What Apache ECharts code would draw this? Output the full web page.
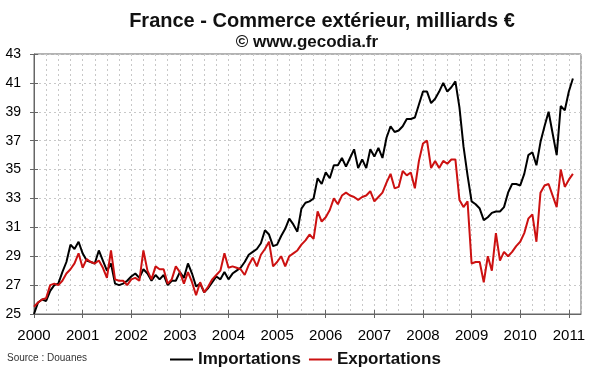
<!DOCTYPE html>
<html>
<head>
<meta charset="utf-8">
<script src="https://cdn.jsdelivr.net/npm/echarts@6/dist/echarts.min.js"></script>
<style>
html,body{margin:0;padding:0;background:#fff;}
#chart{width:600px;height:372px;}
</style>
</head>
<body>
<div id="chart"></div>
<script>
// Monthly data, Jan 2000 .. Feb 2011 (milliards €)
const importations = [
  25.0,25.8,26.0,25.9,26.6,27.0,27.1,27.9,28.6,29.8,29.5,30.0,
  29.2,28.7,28.6,28.5,29.4,28.7,28.0,28.5,27.1,27.0,27.1,27.3,
  27.6,27.8,27.5,28.1,27.8,27.3,27.7,27.4,27.7,27.0,27.3,27.3,
  27.9,27.5,28.5,27.8,26.9,27.1,26.5,26.8,27.2,27.6,27.4,27.9,
  27.4,27.8,28.0,28.2,28.6,29.1,29.3,29.5,29.9,30.8,30.5,29.7,
  29.8,30.4,30.9,31.6,31.2,30.7,32.3,32.7,32.8,33.0,34.4,34.0,
  34.8,34.4,35.3,35.3,35.8,35.2,35.8,36.4,35.1,35.7,35.1,36.4,
  35.9,36.5,35.8,37.2,38.0,37.6,37.7,38.0,38.5,38.5,38.6,39.5,
  40.4,40.4,39.6,39.9,40.4,41.0,40.4,40.7,41.1,39.3,36.6,34.6,
  32.8,32.6,32.3,31.5,31.7,32.0,32.1,32.1,32.4,33.4,34.0,34.0,
  33.9,34.7,36.0,36.2,35.3,36.9,38.0,39.0,37.5,36.0,39.4,39.1,
  40.4,41.3
];
const exportations = [
  25.5,25.8,26.0,26.1,27.0,27.1,27.0,27.3,27.8,28.1,28.5,29.2,
  28.2,28.8,28.6,28.5,28.7,28.2,27.5,29.4,27.4,27.3,27.3,27.0,
  27.4,27.5,27.3,29.4,28.0,27.4,28.3,28.1,28.1,27.1,27.4,28.3,
  27.9,27.1,27.9,27.2,26.3,27.2,26.5,26.9,27.4,27.7,28.0,29.2,
  28.2,28.3,28.2,28.1,27.7,28.4,28.9,28.3,29.1,29.5,30.0,28.3,
  28.6,29.0,28.3,29.0,29.2,29.4,29.8,30.1,30.5,30.2,32.1,31.4,
  31.7,32.2,33.0,32.6,33.2,33.4,33.2,33.1,32.9,33.1,33.2,33.5,
  32.8,33.1,33.4,34.1,34.7,33.7,33.8,34.9,34.6,34.8,33.7,35.6,
  36.8,37.0,35.1,35.6,35.1,35.6,35.4,35.7,35.7,32.9,32.4,32.8,
  28.5,28.6,28.6,27.2,29.0,28.0,30.6,28.7,29.3,29.0,29.3,29.7,
  30.0,30.6,31.6,31.9,30.0,33.4,33.9,34.0,33.2,32.4,35.0,33.8,
  34.3,34.7
];
// Category axis: months Jan 2000 .. Apr 2011
const categories = [];
for (let y = 2000; y <= 2011; y++) {
  for (let m = 1; m <= 12; m++) {
    if (y === 2011 && m > 4) break;
    categories.push(y + '-' + (m < 10 ? '0' + m : m));
  }
}
const yTicks = [25,27,29,31,33,35,37,39,41,43];
const seriesNames = ['Importations', 'Exportations'];
const titleText = 'France - Commerce extérieur, milliards €';
const subtitleText = '© www.gecodia.fr';
const sourceText = 'Source : Douanes';

const chart = echarts.init(document.getElementById('chart'));
const FONT = 'Liberation Sans, Arial, sans-serif';
const axisCol = '#666';
const yearIdx = (i) => i % 12 === 0;

chart.setOption({
  animation: false,
  textStyle: { fontFamily: FONT },
  grid: { left: 34, right: 19, top: 54, bottom: 58, show: true, borderColor: axisCol, borderWidth: 1 },
  graphic: [
    { type: 'text', x: 322, y: 21, style: { text: titleText, font: 'bold 20px ' + FONT, fill: '#111', textAlign: 'center', textVerticalAlign: 'middle' } },
    { type: 'text', x: 307, y: 42, style: { text: subtitleText, font: 'bold 17px ' + FONT, fill: '#111', textAlign: 'center', textVerticalAlign: 'middle' } },
    { type: 'text', x: 7, y: 358, style: { text: sourceText, font: '10px ' + FONT, fill: '#333', textAlign: 'left', textVerticalAlign: 'middle' } }
  ],
  legend: {
    data: seriesNames,
    left: 165, top: 346,
    icon: 'rect', itemWidth: 23, itemHeight: 2, itemGap: 8,
    textStyle: { fontSize: 17, fontWeight: 'bold', color: '#111', fontFamily: FONT }
  },
  xAxis: [{
    type: 'category', data: categories, boundaryGap: false, position: 'bottom',
    axisLine: { lineStyle: { color: axisCol } },
    axisTick: { show: true, interval: yearIdx, length: 4, lineStyle: { color: axisCol } },
    axisLabel: { interval: yearIdx, formatter: (v) => v.slice(0, 4), fontSize: 15, color: '#000', margin: 14 },
    splitLine: { show: true, interval: (i) => i % 3 === 0 && i > 0, lineStyle: { type: [2, 3], color: '#c8c8c8', width: 1 } }
  }, {
    type: 'category', data: categories, boundaryGap: false, position: 'bottom',
    axisLine: { show: false },
    axisTick: { show: true, inside: true, interval: yearIdx, length: 4, lineStyle: { color: axisCol } },
    axisLabel: { show: false }, splitLine: { show: false }
  }],
  yAxis: [{
    type: 'value', min: yTicks[0], max: yTicks[yTicks.length - 1], interval: 2, position: 'left',
    axisLine: { show: true, lineStyle: { color: axisCol } },
    axisTick: { show: true, length: 4, lineStyle: { color: axisCol } },
    axisLabel: { fontSize: 14, color: '#000', margin: 13 },
    splitLine: { show: true, lineStyle: { type: [2, 3], color: '#c8c8c8', width: 1 } }
  }, {
    type: 'value', min: yTicks[0], max: yTicks[yTicks.length - 1], interval: 2, position: 'left',
    axisLine: { show: false },
    axisTick: { show: true, inside: true, length: 4, lineStyle: { color: axisCol } },
    axisLabel: { show: false }, splitLine: { show: false }
  }],
  series: [{
    name: seriesNames[0], type: 'line', data: importations, showSymbol: false, symbol: 'none',
    itemStyle: { color: '#000' }, lineStyle: { color: '#000', width: 2 }
  }, {
    name: seriesNames[1], type: 'line', data: exportations, showSymbol: false, symbol: 'none',
    itemStyle: { color: '#cc1111' }, lineStyle: { color: '#cc1111', width: 2 }
  }]
});
</script>
</body>
</html>
